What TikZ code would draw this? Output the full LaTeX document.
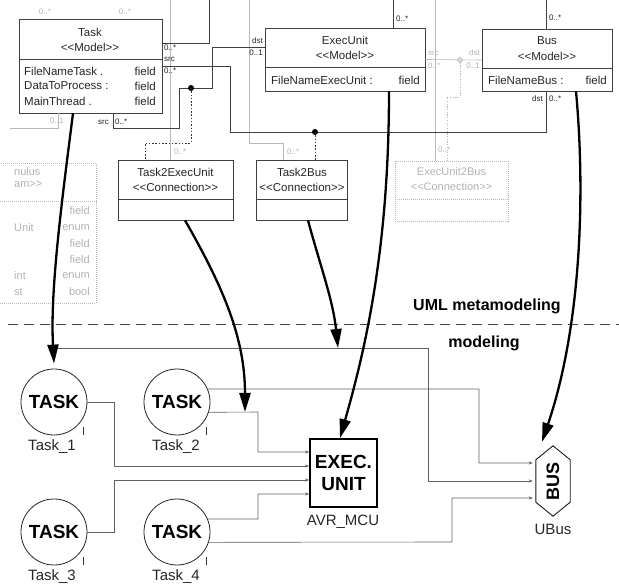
\documentclass[tikz,border=0pt]{standalone}
\usepackage{fontspec}
\setmainfont{Liberation Sans}
\usetikzlibrary{arrows.meta}
\begin{document}
\begin{tikzpicture}[x=1pt,y=-1pt,
 umlbox/.style={draw=black!75, line width=0.7pt, inner sep=0pt},
 fadebox/.style={draw=black!28, line width=0.6pt, dash pattern=on 1pt off 1pt, inner sep=0pt},
 ut/.style={font=\fontsize{11.5}{13}\selectfont, inner sep=0pt, text=black!85},
 fut/.style={font=\fontsize{11}{13}\selectfont, inner sep=0pt, text=black!30},
 lab/.style={font=\fontsize{8}{9}\selectfont, inner sep=0pt, text=black!85},
 flab/.style={font=\fontsize{8}{9}\selectfont, inner sep=0pt, text=black!30},
 assoc/.style={draw=black!75, line width=0.6pt},
 fade/.style={draw=black!28, line width=0.6pt},
 linkd/.style={draw=black!80, line width=0.9pt, dash pattern=on 1.5pt off 1.8pt},
 flinkd/.style={draw=black!28, line width=0.7pt, dash pattern=on 1.2pt off 1.5pt},
 big/.style={line width=2.3pt, -{Triangle[length=19pt,width=11pt]}},
 conn/.style={draw=black!62, line width=0.6pt, -{Stealth[length=4pt,width=3pt]}},
 tasknode/.style={circle, draw=black!85, line width=0.8pt, minimum size=66pt, inner sep=0pt, font=\bfseries\fontsize{19}{20}\selectfont},
 nm/.style={font=\fontsize{15}{17}\selectfont, inner sep=0pt, text=black!85},
 dotnode/.style={circle, fill=black, inner sep=0pt, minimum size=6pt},
 fdotnode/.style={circle, draw=black!35, fill=black!15, inner sep=0pt, minimum size=5pt},
 sep/.style={draw=black!75, line width=0.7pt},
 fsep/.style={draw=black!28, line width=0.6pt, dash pattern=on 1pt off 1pt},
]
\useasboundingbox (0,0) rectangle (619,585);

% ---------- faded left box ----------
\node[fadebox, minimum width=98pt, minimum height=140pt] (lbox) at (47,233) {};
\draw[fsep] ([yshift=-39pt]lbox.north west) -- ([yshift=-39pt]lbox.north east);
\node[fut, anchor=west] (l1) at (14,172) {nulus};
\node[fut, anchor=west] (l2) at (14,184) {am>{}>};
\node[fut, anchor=east] (l3) at (90,211) {field};
\node[fut, anchor=west] (l4) at (14,228) {Unit};
\node[fut, anchor=east] (l5) at (90,228) {enum};
\node[fut, anchor=east] (l6) at (90,244) {field};
\node[fut, anchor=east] (l7) at (90,260) {field};
\node[fut, anchor=west] (l8) at (14,276) {int};
\node[fut, anchor=east] (l9) at (90,276) {enum};
\node[fut, anchor=west] (l10) at (14,292) {st};
\node[fut, anchor=east] (l11) at (90,292) {bool};

% ---------- UML boxes ----------
\node[umlbox, minimum width=143pt, minimum height=94pt] (task) at (90.5,66) {};
\draw[sep] ([yshift=-41pt]task.north west) -- ([yshift=-41pt]task.north east);
\node[ut] (taskn) at (90,32) {Task};
\node[ut] (taskm) at (90,47) {<{}<Model>{}>};
\node[ut, anchor=west] (tf1) at (24,71) {FileNameTask .};
\node[ut, anchor=east] (tv1) at (156,71) {field};
\node[ut, anchor=west] (tf2) at (24,86) {DataToProcess :};
\node[ut, anchor=east] (tv2) at (156,86) {field};
\node[ut, anchor=west] (tf3) at (24,101) {MainThread .};
\node[ut, anchor=east] (tv3) at (156,101) {field};

\node[umlbox, minimum width=160pt, minimum height=63pt] (eu) at (345,59.5) {};
\draw[sep] ([yshift=-40pt]eu.north west) -- ([yshift=-40pt]eu.north east);
\node[ut] (eun) at (345,40) {ExecUnit};
\node[ut] (eum) at (345,55) {<{}<Model>{}>};
\node[ut, anchor=west] (euf) at (271,80) {FileNameExecUnit :};
\node[ut, anchor=east] (euv) at (420,80) {field};

\node[umlbox, minimum width=130pt, minimum height=62pt] (busm) at (547,60) {};
\draw[sep] ([yshift=-40pt]busm.north west) -- ([yshift=-40pt]busm.north east);
\node[ut] (busn) at (547,41) {Bus};
\node[ut] (busmm) at (547,56) {<{}<Model>{}>};
\node[ut, anchor=west] (busf) at (488,80) {FileNameBus :};
\node[ut, anchor=east] (busv) at (607,80) {field};

\node[umlbox, minimum width=115pt, minimum height=60pt] (te) at (175.5,190) {};
\draw[sep] ([yshift=-40pt]te.north west) -- ([yshift=-40pt]te.north east);
\node[ut] (ten) at (175.5,172) {Task2ExecUnit};
\node[ut] (tem) at (175.5,187) {<{}<Connection>{}>};

\node[umlbox, minimum width=91pt, minimum height=60pt] (tb) at (302,190) {};
\draw[sep] ([yshift=-40pt]tb.north west) -- ([yshift=-40pt]tb.north east);
\node[ut] (tbn) at (302,172) {Task2Bus};
\node[ut] (tbm) at (302,187) {<{}<Connection>{}>};

\node[fadebox, minimum width=113pt, minimum height=60pt] (eb) at (451.5,191) {};
\draw[fsep] ([yshift=-39pt]eb.north west) -- ([yshift=-39pt]eb.north east);
\node[fut] (ebn) at (451.5,172) {ExecUnit2Bus};
\node[fut] (ebm) at (451.5,187) {<{}<Connection>{}>};

% ---------- faded associations ----------
\draw[fade] (170,0) -- ([xshift=-5.5pt]te.north);
\draw[fade] (249,0) -- (249,143) -| ([xshift=-19pt]tb.north);
\draw[fade] (435,0) -- ([xshift=-16.5pt]eb.north);
\draw[fade] (eu.east) -- (busm.west);
\node[fdotnode] (d3) at (460,60) {};
\draw[flinkd] (d3) -- (460,97) -| ([xshift=-4.5pt]eb.north);
\draw[fade] (10,128) -- (58,128) -- ([xshift=-32.5pt]task.south);
\node[flab] (fl1) at (45,12) {0..*};
\node[flab] (fl2) at (125,12) {0..*};
\node[flab, anchor=west] (fl3) at (50,121) {0..1};
\node[flab, anchor=west] (fl4) at (174,152) {0..*};
\node[flab, anchor=west] (fl5) at (287,152) {0..*};
\node[flab, anchor=west] (fl6) at (438,150) {0..*};
\node[flab, anchor=west] (fl7) at (428,53) {src};
\node[flab, anchor=west] (fl8) at (428,66) {0..*};
\node[flab, anchor=east] (fl9) at (480,53) {dst};
\node[flab, anchor=east] (fl10) at (480,66) {0..1};

% ---------- associations ----------
\draw[assoc] ([yshift=23pt]task.east) -| (209,0);
\draw[assoc] (task.east) -| (230,132) -| ([xshift=-1pt]busm.south);
\draw[assoc] ([xshift=22.5pt]task.south) -- (113,128) -| (179,88) -| (212,47) -- ([yshift=12.5pt]eu.west);
\draw[assoc] ([xshift=48pt]eu.north) -- ++(0,-28);
\draw[assoc] ([xshift=-1pt]busm.north) -- ++(0,-29);
\node[dotnode] (d1) at (191,88) {};
\node[dotnode] (d2) at (315,132) {};
\draw[linkd] (d1.center) -- (191,143) -| ([xshift=-30.5pt]te.north);
\draw[linkd] (d2.center) -- ([xshift=13pt]tb.north);

\node[lab, anchor=west] (a1) at (164,48) {0..*};
\node[lab, anchor=west] (a2) at (164,59) {src};
\node[lab, anchor=west] (a3) at (164,71) {0..*};
\node[lab, anchor=west] (a4) at (98,122) {src};
\node[lab, anchor=west] (a5) at (115,122) {0..*};
\node[lab, anchor=east] (a6) at (263,41) {dst};
\node[lab, anchor=east] (a7) at (263,53) {0..1};
\node[lab, anchor=west] (a8) at (396,19) {0..*};
\node[lab, anchor=west] (a9) at (549,18) {0..*};
\node[lab, anchor=east] (a10) at (543,99) {dst};
\node[lab, anchor=west] (a11) at (549,99) {0..*};

% ---------- separator ----------
\coordinate (dl) at (8,324);
\coordinate (dr) at (619,324);
\draw[black!75, line width=0.9pt, dash pattern=on 10pt off 6pt] (dl) -- (dr);
\node[font=\bfseries\fontsize{16}{18}\selectfont, inner sep=0pt] (meta) at (487,306) {UML metamodeling};
\node[font=\bfseries\fontsize{16}{18}\selectfont, inner sep=0pt] (model) at (484,343) {modeling};

% ---------- model level ----------
\node[tasknode] (t1) at (54,402) {TASK};
\node[tasknode] (t2) at (177,402) {TASK};
\node[tasknode] (t3) at (54,532) {TASK};
\node[tasknode] (t4) at (177,532) {TASK};
\node[nm] (t1l) at (52,447) {Task\_1};
\node[nm] (t2l) at (176,447) {Task\_2};
\node[nm] (t3l) at (52,577) {Task\_3};
\node[nm] (t4l) at (176,577) {Task\_4};
\foreach \t in {t1,t2,t3,t4}{
  \draw[black!80, line width=0.8pt] ([xshift=29pt,yshift=-25pt]\t.center) -- ++(0,8);
}

\node[draw=black, line width=1.8pt, minimum width=67pt, minimum height=68pt, inner sep=0pt, align=center,
      font=\bfseries\fontsize{19}{22}\selectfont] (exec) at (343.5,473) {EXEC.\\UNIT};
\node[nm] (execl) at (343,522) {AVR\_MCU};

\node[minimum width=34pt, minimum height=70pt, inner sep=0pt] (ubus) at (553,481) {};
\draw[black!90, line width=0.9pt] (ubus.north) -- ([yshift=-14pt]ubus.north east) -- ([yshift=14pt]ubus.south east)
  -- (ubus.south) -- ([yshift=14pt]ubus.south west) -- ([yshift=-14pt]ubus.north west) -- cycle;
\node[rotate=90, inner sep=0pt, font=\bfseries\fontsize{18}{20}\selectfont] (busl) at (ubus.center) {BUS};
\node[nm] (ubusl) at (553,529) {UBus};

\coordinate (t1top) at (54,348);
\coordinate (j3) at (245,412);
\coordinate (j1) at (338,348);

\draw[conn, shorten >=3pt] (t1top) -- (428,348) |- (ubus.west);
\draw[conn, shorten >=3pt] (t2.23) -- (479,389) |- ([yshift=18pt]ubus.west);
\draw[conn] (t2.-18) -- (258,412) |- ([yshift=21pt]exec.west);
\draw[conn] (t1.east) -- (114,402) |- ([yshift=7pt]exec.west);
\draw[conn] (t3.east) -- (114,532) |- ([yshift=-7pt]exec.west);
\draw[conn] (t4.23) -- (258,519) |- ([yshift=-21pt]exec.west);
\draw[conn, shorten >=3pt] (t4.-18) -- (452,542) |- ([yshift=-17pt]ubus.west);

% ---------- thick mapping arrows ----------
\draw[big] ([xshift=-17.5pt]task.south) .. controls (62,200) and (50,290) .. ([yshift=5pt]t1.north);
\draw[big] ([xshift=9.5pt]te.south) .. controls (225,290) and (245,340) .. (j3);
\draw[big] ([xshift=6pt]tb.south) .. controls (320,265) and (333,300) .. (j1);
\draw[big] ([xshift=44pt]eu.south) .. controls (389,250) and (365,350) .. ([xshift=-3.5pt]exec.north);
\draw[big] ([xshift=29pt]busm.south) .. controls (586,200) and (580,330) .. ([xshift=-11pt,yshift=4pt]ubus.north);
\end{tikzpicture}
\end{document}
